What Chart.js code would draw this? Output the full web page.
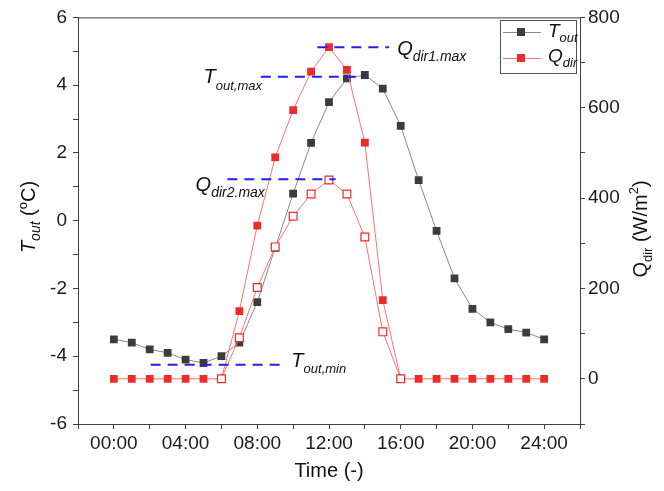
<!DOCTYPE html>
<html><head><meta charset="utf-8">
<script src="https://cdn.jsdelivr.net/npm/chart.js@4/dist/chart.umd.min.js"></script>
<style>html,body{margin:0;padding:0;background:#fff}#wrap{width:664px;height:491px}</style>
</head><body><div id="wrap"><canvas id="c" width="664" height="491"></canvas></div>
<script>
// ---- data ----
const hours = [0,1,2,3,4,5,6,7,8,9,10,11,12,13,14,15,16,17,18,19,20,21,22,23,24];
const tOut  = [-3.5,-3.6,-3.8,-3.9,-4.1,-4.2,-4.0,-3.6,-2.4,-0.8,0.8,2.3,3.5,4.2,4.3,3.9,2.8,1.2,-0.3,-1.7,-2.6,-3.0,-3.2,-3.3,-3.5];
const qDir1 = [0,0,0,0,0,0,0,150,339,490,595,680,734,684,523,174,0,0,0,0,0,0,0,0,0];
const qDir2 = [null,null,null,null,null,null,0,91,202,292,360,409,440,409,314,104,0,null,null,null,null,null,null,null,null];
const xTickLabels = {0:'00:00',4:'04:00',8:'08:00',12:'12:00',16:'16:00',20:'20:00',24:'24:00'};
// guide lines (blue dashed): [xStart, xEnd] and level
const guideTmaxX = [8.2, 14.0],  guideTmax = 4.25;
const guideTminX = [2.05, 9.5],  guideTmin = -4.25;
const guideQ1X   = [11.35, 15.35], guideQ1 = 734;
const guideQ2X   = [6.33, 12.37], guideQ2 = 442;

const FAM = '"Liberation Sans", Arial, sans-serif';
Chart.defaults.font.family = FAM;

const pts = (arr) => hours.map((h,i)=>({x:h, y:arr[i]}));
const seg = (xs, v) => [{x:xs[0], y:v},{x:xs[1], y:v}];
const BLUE = '#1f1fff';
const guide = (xs, v, axis) => ({data: seg(xs, v), yAxisID: axis, borderColor: BLUE, borderWidth: 2, borderDash:[10,7], pointRadius:0, fill:false, order:0});

function rich(ctx, parts, x, y, align){
  let w = 0;
  parts.forEach(p=>{ ctx.font = (p.i?'italic ':'') + p.s + 'px ' + FAM; p.w = ctx.measureText(p.t).width; w += p.w; });
  let cx = align==='center' ? x - w/2 : (align==='right' ? x - w : x);
  ctx.textAlign = 'left'; ctx.textBaseline = 'alphabetic';
  parts.forEach(p=>{ ctx.font = (p.i?'italic ':'') + p.s + 'px ' + FAM; ctx.fillText(p.t, cx, y + (p.d||0)); cx += p.w; });
}

const deco = {
  id:'deco',
  afterDraw(chart){
    const ctx = chart.ctx, a = chart.chartArea;
    const xs = chart.scales.x, ys = chart.scales.y, y2 = chart.scales.y2;
    ctx.save();
    // top frame line
    ctx.strokeStyle = '#404040'; ctx.lineWidth = 1;
    ctx.beginPath(); ctx.moveTo(a.left, a.top + 0.5); ctx.lineTo(a.right, a.top + 0.5); ctx.stroke();
    ctx.fillStyle = '#111';
    // annotation labels
    rich(ctx, [{t:'T', s:20, i:true},{t:'out,max', s:13, i:true, d:7}], xs.getPixelForValue(5), ys.getPixelForValue(guideTmax)+6);
    rich(ctx, [{t:'T', s:20, i:true},{t:'out,min', s:13, i:true, d:6}], xs.getPixelForValue(9.9), ys.getPixelForValue(guideTmin)+2.5);
    rich(ctx, [{t:'Q', s:20, i:true},{t:'dir1.max', s:14, i:true, d:6}], xs.getPixelForValue(15.8), y2.getPixelForValue(guideQ1)+7.5);
    rich(ctx, [{t:'Q', s:20, i:true},{t:'dir2.max', s:14, i:true, d:6}], xs.getPixelForValue(4.56), y2.getPixelForValue(guideQ2)+12);
    // axis titles
    ctx.fillStyle = '#111';
    rich(ctx, [{t:'Time (-)', s:20}], (a.left + a.right)/2, 477, 'center');
    ctx.save(); ctx.translate(35, 217); ctx.rotate(-Math.PI/2);
    rich(ctx, [{t:'T', s:20, i:true},{t:'out', s:14, i:true, d:5},{t:' (', s:20},{t:'o', s:13, d:-8},{t:'C)', s:20}], 0, 0, 'center');
    ctx.restore();
    ctx.save(); ctx.translate(647, 229); ctx.rotate(-Math.PI/2);
    rich(ctx, [{t:'Q', s:20},{t:'dir', s:13, d:5},{t:' (W/m', s:20},{t:'2', s:13, d:-9},{t:')', s:20}], 0, 0, 'center');
    ctx.restore();
    // legend
    const L = 500, T = 20, W = 76, H = 53;
    ctx.strokeStyle = '#555'; ctx.lineWidth = 1;
    ctx.strokeRect(L + 0.5, T + 0.5, W, H);
    const item = (yy, lineC, fillC) => {
      ctx.strokeStyle = lineC; ctx.lineWidth = 1;
      ctx.beginPath(); ctx.moveTo(503, yy + 0.5); ctx.lineTo(541, yy + 0.5); ctx.stroke();
      ctx.fillStyle = fillC; ctx.fillRect(517, yy - 4, 8, 8);
    };
    item(32, '#888', '#3c3c3c');
    item(58, '#ff7070', '#ee2a2a');
    ctx.fillStyle = '#111';
    rich(ctx, [{t:'T', s:19, i:true},{t:'out', s:13, i:true, d:5}], 548, 37);
    rich(ctx, [{t:'Q', s:19, i:true},{t:'dir', s:13, i:true, d:5}], 548, 62);
    ctx.restore();
  }
};

const axisC = '#404040', tickFont = {family: FAM, size: 19}, tickC = '#1a1a1a';

new Chart(document.getElementById('c'), {
  type: 'line',
  data: { datasets: [
    guide(guideTmaxX, guideTmax, 'y'),
    guide(guideTminX, guideTmin, 'y'),
    guide(guideQ1X, guideQ1, 'y2'),
    guide(guideQ2X, guideQ2, 'y2'),
    {label:'Qdir2', data: pts(qDir2), yAxisID:'y2', borderColor:'#ff7070', borderWidth:1, pointStyle:'rect', pointRadius:5.5, pointBackgroundColor:'#ffffff', pointBorderColor:'#ee2a2a', pointBorderWidth:1.2, order:1},
    {label:'Qdir', data: pts(qDir1), yAxisID:'y2', borderColor:'#ff7070', borderWidth:1, pointStyle:'rect', pointRadius:5.5, pointBackgroundColor:'#ee2a2a', pointBorderColor:'#ee2a2a', pointBorderWidth:0, order:2},
    {label:'Tout', data: pts(tOut), yAxisID:'y', borderColor:'#888888', borderWidth:1, pointStyle:'rect', pointRadius:5.5, pointBackgroundColor:'#3c3c3c', pointBorderColor:'#3c3c3c', pointBorderWidth:0, order:3}
  ]},
  options: {
    responsive:false, animation:false, devicePixelRatio:1,
    layout:{padding:{top:16, left:0, right:0, bottom:0}},
    plugins:{legend:{display:false}, tooltip:{enabled:false}},
    scales:{
      x:{type:'linear', position:'bottom', min:-2, max:26,
         afterFit(s){ s.height = 67; },
         ticks:{stepSize:2, autoSkip:false, maxRotation:0, color:tickC, font:tickFont, padding:3,
                callback:(v)=> (xTickLabels[v] !== undefined ? xTickLabels[v] : '')},
         grid:{drawOnChartArea:false, tickLength:5, color:axisC},
         border:{color:axisC, width:1}},
      y:{position:'left', min:-6, max:6,
         afterFit(s){ s.width = 78; },
         ticks:{stepSize:1, autoSkip:false, color:tickC, font:tickFont, padding:6,
                callback:(v)=> (v % 2 === 0 ? String(v) : '')},
         grid:{drawOnChartArea:false, tickLength:5, color:axisC},
         border:{color:axisC, width:1}},
      y2:{position:'right', min:-100, max:800,
         afterFit(s){ s.width = 84; },
         ticks:{stepSize:100, autoSkip:false, color:tickC, font:tickFont, padding:3,
                callback:(v)=> (v % 200 === 0 && v >= 0 ? String(v) : '')},
         grid:{drawOnChartArea:false, tickLength:5, color:axisC},
         border:{color:axisC, width:1}}
    }
  },
  plugins:[deco]
});
</script></body></html>
